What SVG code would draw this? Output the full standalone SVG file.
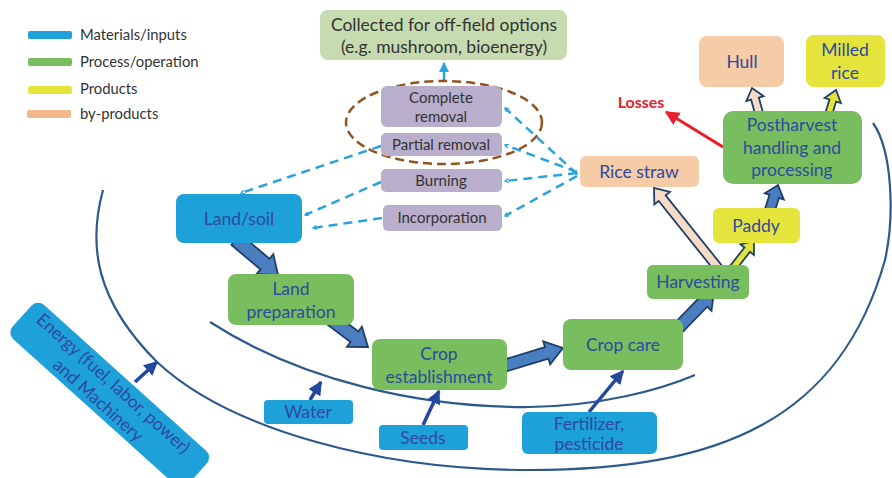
<svg xmlns="http://www.w3.org/2000/svg" width="892" height="478" viewBox="0 0 892 478">
<defs>
<style>
.t{font-family:Lato,"Liberation Sans",sans-serif;text-anchor:middle}
.nt{font-size:17.5px;fill:#2e4a9e}
.pt{font-size:15px;fill:#333}
.lg{font-family:Lato,"Liberation Sans",sans-serif;font-size:14.8px;fill:#333}
.blue{fill:#1ea0d9}
.green{fill:#78be5f}
.beige{fill:#f6cba8}
.yellow{fill:#e4e43c}
.purple{fill:#b9aecb}
.curve{fill:none;stroke:#2c5a8c;stroke-width:2.2}
.dash{fill:none;stroke:#2aa3dc;stroke-width:2.5;stroke-dasharray:9,6}
.inp{stroke:#2346a0;stroke-width:3.5;fill:none}
.blk{stroke:#1f3f66;stroke-width:1.8;stroke-linejoin:miter}
.bk-blue{fill:#4a7ec0}
.bk-beige{fill:#f6dcc6}
.bk-yellow{fill:#e4e43c}
</style>
<marker id="chev" viewBox="0 0 10 10" refX="8" refY="5" markerWidth="5" markerHeight="5" orient="auto-start-reverse" markerUnits="userSpaceOnUse">
<path d="M1,1 L8,5 L1,9" fill="none" stroke="#2aa3dc" stroke-width="2.5"/>
</marker>
<marker id="solidhead" viewBox="0 0 10 10" refX="9" refY="5" markerWidth="4" markerHeight="4" orient="auto">
<path d="M0,0 L10,5 L0,10 Z" fill="#2346a0"/>
</marker>
<marker id="redhead" viewBox="0 0 10 10" refX="9" refY="5" markerWidth="4.5" markerHeight="4.5" orient="auto">
<path d="M0,0 L10,5 L0,10 Z" fill="#e8202a"/>
</marker>
<marker id="lbhead" viewBox="0 0 10 10" refX="9" refY="5" markerWidth="4" markerHeight="4" orient="auto">
<path d="M0,0 L10,5 L0,10 Z" fill="#2aa3dc"/>
</marker>
</defs>
<rect width="892" height="478" fill="#ffffff"/>

<g id="legend">
<rect x="28" y="31" width="44" height="8" rx="2" class="blue"/>
<text x="80" y="40" class="lg">Materials/inputs</text>
<rect x="28" y="58" width="44" height="8" rx="2" class="green"/>
<text x="80" y="67" class="lg">Process/operation</text>
<rect x="28" y="86" width="44" height="8" rx="2" class="yellow"/>
<text x="80" y="94" class="lg">Products</text>
<rect x="27" y="110" width="44" height="8" rx="2" fill="#f4b88d"/>
<text x="80" y="119" class="lg">by-products</text>
</g>

<g id="curves">
<path class="curve" d="M103,190 C88,245 95,300 157,362 C230,430 380,470 530,470 C720,470 840,420 885,260 C895,215 892,150 873,123"/>
<path class="curve" d="M210,322 C300,380 420,408 530,407 C600,406 660,390 695,375"/>
</g>

<g id="connectors">
<path class="dash" d="M577,174 L505,108" marker-start="url(#chev)" marker-end="url(#chev)"/>
<path class="dash" d="M577,172 L505,145" marker-end="url(#chev)"/>
<path class="dash" d="M577,173 L505,181" marker-end="url(#chev)"/>
<path class="dash" d="M577,176 L505,216" marker-end="url(#chev)"/>
<path class="dash" d="M381,146 L241,193" marker-end="url(#chev)"/>
<path class="dash" d="M381,182 L305,215" marker-end="url(#chev)"/>
<path class="dash" d="M382,218 L313,228" marker-end="url(#chev)"/>
<path d="M444,80 L444,63" stroke="#2aa3dc" stroke-width="2.5" marker-end="url(#lbhead)"/>
<path d="M723,147 L666,112" stroke="#e8202a" stroke-width="3.2" marker-end="url(#redhead)"/>
<path class="inp" d="M310,400 L321,382" marker-end="url(#solidhead)"/>
<path class="inp" d="M423,425 L439,391" marker-end="url(#solidhead)"/>
<path class="inp" d="M589,412 L623,371" marker-end="url(#solidhead)"/>
<path class="inp" d="M135,382 L157,362" marker-end="url(#solidhead)"/>
<g transform="translate(278,275) rotate(40)"><path class="blk bk-blue" d="M-55,-7 L-17,-7 L-17,-13 L0,0 L-17,13 L-17,7 L-55,7 Z"/></g>
<g transform="translate(368,347) rotate(37)"><path class="blk bk-blue" d="M-50,-6.5 L-17,-6.5 L-17,-12.5 L0,0 L-17,12.5 L-17,6.5 L-50,6.5 Z"/></g>
<g transform="translate(563,348) rotate(-16.8)"><path class="blk bk-blue" d="M-66,-6 L-17,-6 L-17,-12 L0,0 L-17,12 L-17,6 L-66,6 Z"/></g>
<g transform="translate(714,291) rotate(-46)"><path class="blk bk-blue" d="M-60,-6 L-16,-6 L-16,-12 L0,0 L-16,12 L-16,6 L-60,6 Z"/></g>
<g transform="translate(654,188) rotate(-128.7)"><path class="blk bk-beige" d="M-104,-4.5 L-13,-4.5 L-13,-10 L0,0 L-13,10 L-13,4.5 L-104,4.5 Z"/></g>
<g transform="translate(754,241) rotate(-52)"><path class="blk bk-yellow" d="M-34,-3.5 L-11,-3.5 L-11,-8.5 L0,0 L-11,8.5 L-11,3.5 L-34,3.5 Z"/></g>
<g transform="translate(778,185) rotate(-72)"><path class="blk bk-blue" d="M-30,-5 L-12,-5 L-12,-10 L0,0 L-12,10 L-12,5 L-30,5 Z"/></g>
<g transform="translate(752,88) rotate(-105.6)"><path class="blk bk-beige" d="M-30,-4 L-11,-4 L-11,-9 L0,0 L-11,9 L-11,4 L-30,4 Z"/></g>
<g transform="translate(836,90) rotate(-73)"><path class="blk bk-yellow" d="M-28,-3.5 L-11,-3.5 L-11,-8.5 L0,0 L-11,8.5 L-11,3.5 L-28,3.5 Z"/></g>
</g>

<g id="collected">
<rect x="320" y="10" width="247" height="50" rx="8" fill="#c6dbb0"/>
<text x="444" y="31" class="t" font-size="17.5" fill="#333">Collected for off-field options</text>
<text x="444" y="53" class="t" font-size="17.5" fill="#333">(e.g. mushroom, bioenergy)</text>
</g>

<g id="removal-ellipse">
<ellipse cx="444" cy="122.5" rx="98" ry="41.5" fill="none" stroke="#94521e" stroke-width="2.5" stroke-dasharray="9,5"/>
</g>

<g id="complete-removal">
<rect x="381" y="86" width="121" height="41" rx="6" class="purple"/>
<text x="441" y="103" class="t pt">Complete</text>
<text x="441" y="122" class="t pt">removal</text>
</g>
<g id="partial-removal">
<rect x="381" y="133" width="121" height="23" rx="5" class="purple"/>
<text x="441" y="150" class="t pt">Partial removal</text>
</g>
<g id="burning">
<rect x="381" y="169" width="121" height="23" rx="5" class="purple"/>
<text x="441" y="186" class="t pt">Burning</text>
</g>
<g id="incorporation">
<rect x="383" y="205" width="119" height="26" rx="5" class="purple"/>
<text x="442" y="223" class="t pt">Incorporation</text>
</g>

<g id="rice-straw">
<rect x="580" y="156" width="119" height="31" rx="6" class="beige"/>
<text x="639" y="178" class="t nt">Rice straw</text>
</g>

<g id="land-soil">
<rect x="176" y="194" width="126" height="49" rx="8" class="blue"/>
<text x="239" y="225" class="t nt">Land/soil</text>
</g>

<g id="land-preparation">
<rect x="228" y="274" width="126" height="51" rx="8" class="green"/>
<text x="291" y="295" class="t nt">Land</text>
<text x="291" y="318" class="t nt">preparation</text>
</g>

<g id="crop-establishment">
<rect x="372" y="339" width="135" height="51" rx="8" class="green"/>
<text x="439" y="360" class="t nt">Crop</text>
<text x="439" y="383" class="t nt">establishment</text>
</g>

<g id="crop-care">
<rect x="563" y="319" width="120" height="51" rx="8" class="green"/>
<text x="623" y="351" class="t nt">Crop care</text>
</g>

<g id="harvesting">
<rect x="647" y="265" width="102" height="34" rx="6" class="green"/>
<text x="698" y="288" class="t nt">Harvesting</text>
</g>

<g id="paddy">
<rect x="713" y="208" width="87" height="35" rx="6" class="yellow"/>
<text x="756" y="232" class="t nt">Paddy</text>
</g>

<g id="postharvest">
<rect x="723" y="111" width="139" height="73" rx="10" class="green"/>
<text x="792" y="131" class="t nt">Postharvest</text>
<text x="792" y="154" class="t nt">handling and</text>
<text x="792" y="176" class="t nt">processing</text>
</g>

<g id="hull">
<rect x="699" y="36" width="85" height="51" rx="8" class="beige"/>
<text x="742" y="68" class="t nt">Hull</text>
</g>

<g id="milled-rice">
<rect x="806" y="35" width="79" height="52" rx="8" class="yellow"/>
<text x="845" y="56" class="t nt">Milled</text>
<text x="845" y="79" class="t nt">rice</text>
</g>

<g id="losses">
<text x="641" y="108" class="t" font-size="16" font-weight="bold" fill="#e8202a">Losses</text>
</g>

<g id="water">
<rect x="264" y="400" width="89" height="24" rx="4" class="blue"/>
<text x="308" y="418" class="t nt">Water</text>
</g>
<g id="seeds">
<rect x="379" y="425" width="89" height="25" rx="4" class="blue"/>
<text x="423" y="444" class="t nt">Seeds</text>
</g>
<g id="fertilizer">
<rect x="522" y="412" width="135" height="42" rx="6" class="blue"/>
<text x="589" y="430" class="t nt">Fertilizer,</text>
<text x="589" y="450" class="t nt">pesticide</text>
</g>

<g id="energy" transform="translate(109.7,395) rotate(42)">
<rect x="-118" y="-23" width="236" height="46" rx="9" class="blue"/>
<text x="-5" y="-5" class="t nt">Energy (fuel, labor, power)</text>
<text x="-5" y="17.5" class="t nt">and Machinery</text>
</g>
</svg>
